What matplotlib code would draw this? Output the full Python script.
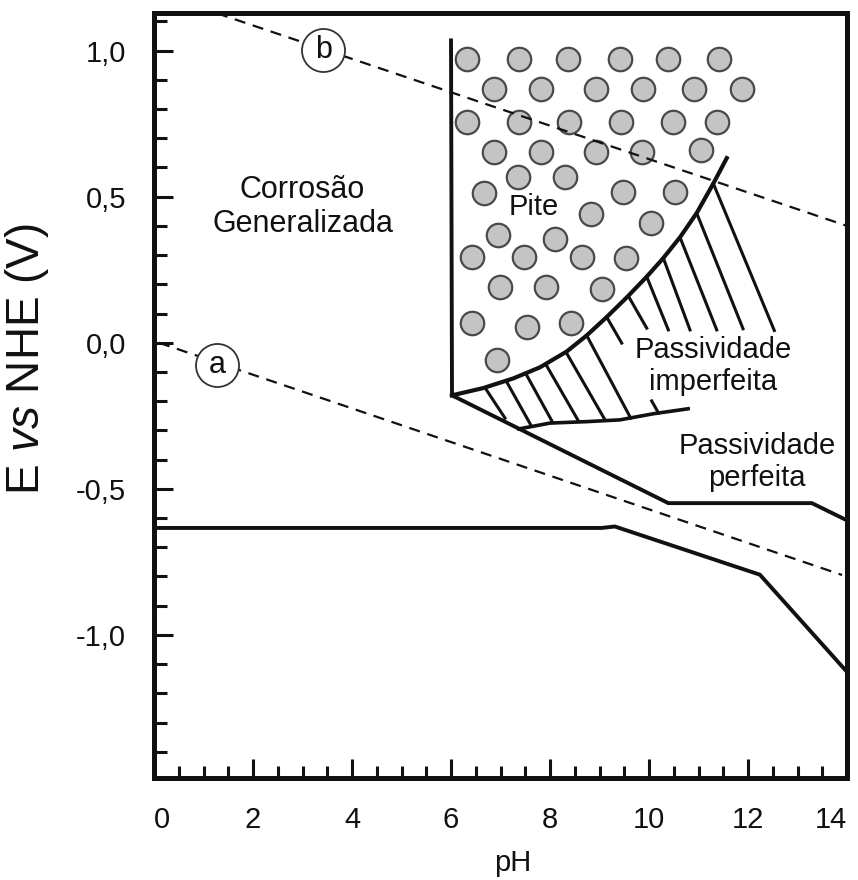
import numpy as np
import matplotlib
matplotlib.use("Agg")
import matplotlib.pyplot as plt
from matplotlib.ticker import MultipleLocator, FuncFormatter

plt.rcParams["font.family"] = ["Liberation Sans", "DejaVu Sans"]
plt.rcParams["mathtext.fontset"] = "custom"
plt.rcParams["mathtext.it"] = "Liberation Sans:italic"
plt.rcParams["mathtext.rm"] = "Liberation Sans"

x_ticks = [0, 2, 4, 6, 8, 10, 12, 14]

# dashed water stability lines
line_a_ph = [0.1, 13.9]
line_a_e = [0.0, -0.795]
line_b_ph = [1.27, 14.0]
line_b_e = [1.128, 0.40]

# solid boundaries
bottom_ph = [0.0, 9.04, 9.31, 12.24, 13.99]
bottom_e = [-0.634, -0.634, -0.629, -0.794, -1.125]

perfect_ph = [6.02, 10.39, 13.29, 14.0]
perfect_e = [-0.18, -0.549, -0.549, -0.608]

pit_wall_ph = [6.0, 6.02]
pit_wall_e = [1.035, -0.18]

pit_curve_ph = [6.02, 6.653, 7.259, 7.798, 8.337, 8.741, 9.145, 9.549, 9.953,
                10.289, 10.626, 10.963, 11.299, 11.57]
pit_curve_e = [-0.18, -0.155, -0.122, -0.084, -0.030, 0.025, 0.088, 0.155, 0.226,
               0.290, 0.361, 0.444, 0.545, 0.632]

lower_curve_ph = [7.37, 8.0, 8.74, 9.41, 10.09, 10.79]
lower_curve_e = [-0.295, -0.275, -0.270, -0.264, -0.243, -0.226]

# hatch strokes in the imperfect passivity zone
hatch_ph0 = [6.687, 7.125, 7.515, 7.919, 8.323, 8.741, 9.145, 9.582, 9.954, 10.289, 10.626, 10.963, 11.299, 10.054]
hatch_e0 = [-0.154, -0.134, -0.107, -0.075, -0.032, 0.025, 0.088, 0.160, 0.226, 0.290, 0.361, 0.444, 0.545, -0.199]
hatch_ph1 = [7.091, 7.610, 8.055, 8.572, 9.111, 9.630, 9.448, 9.954, 10.39, 10.828, 11.368, 11.899, 12.531, 10.19]
hatch_e1 = [-0.258, -0.281, -0.273, -0.267, -0.264, -0.258, -0.001, 0.050, 0.044, 0.044, 0.044, 0.048, 0.042, -0.240]

# pits
pit_ph = [6.317, 7.38, 8.37, 9.414, 10.378, 11.42,
          6.875, 7.818, 8.923, 9.873, 10.915, 11.873,
          6.317, 7.38, 8.384, 9.428, 10.479, 11.368,
          6.875, 7.818, 8.923, 9.865, 11.044,
          7.36, 8.303,
          6.673, 9.475, 10.525, 8.828, 10.04, 6.956, 8.101,
          6.43, 7.48, 8.64, 9.535, 6.99, 7.92, 9.044,
          6.418, 7.54, 8.424, 6.923]
pit_e = [0.971, 0.971, 0.971, 0.971, 0.971, 0.971,
         0.868, 0.868, 0.868, 0.868, 0.868, 0.868,
         0.757, 0.757, 0.757, 0.757, 0.757, 0.757,
         0.654, 0.654, 0.654, 0.654, 0.660,
         0.569, 0.569,
         0.512, 0.515, 0.515, 0.441, 0.409, 0.369, 0.355,
         0.295, 0.295, 0.295, 0.290, 0.192, 0.192, 0.183,
         0.067, 0.055, 0.067, -0.059]

ink = "#111111"

fig = plt.figure(figsize=(8.58, 8.80), dpi=100)
ax = fig.add_axes([0.1795, 0.1159, 0.8077, 0.8697])

ax.scatter(pit_ph, pit_e, s=285, facecolor="#c4c4c4", edgecolor="#4a4a4a", linewidth=1.6, zorder=2)

ax.plot(line_a_ph, line_a_e, color=ink, lw=1.6, ls=(0, (5, 3.5)), zorder=3)
ax.plot(line_b_ph, line_b_e, color=ink, lw=1.6, ls=(0, (5, 3.5)), zorder=3)

ax.plot(bottom_ph, bottom_e, color=ink, lw=2.8, zorder=3, solid_joinstyle="miter")
ax.plot(perfect_ph, perfect_e, color=ink, lw=2.8, zorder=3, solid_joinstyle="miter")
ax.plot(pit_wall_ph, pit_wall_e, color=ink, lw=2.8, zorder=3)
ax.plot(pit_curve_ph, pit_curve_e, color=ink, lw=3.0, zorder=3)
ax.plot(lower_curve_ph, lower_curve_e, color=ink, lw=2.6, zorder=3)
for x0, y0, x1, y1 in zip(hatch_ph0, hatch_e0, hatch_ph1, hatch_e1):
    ax.plot([x0, x1], [y0, y1], color=ink, lw=2.2, zorder=3)

# circled labels
ax.scatter([1.28, 3.42], [-0.076, 1.002], s=960, facecolor="white", edgecolor="#333333", linewidth=1.3, zorder=4)
ax.text(1.28, -0.076, "a", fontsize=22, ha="center", va="center", color=ink, zorder=5)
ax.text(3.42, 1.002, "b", fontsize=22, ha="center", va="center", color=ink, zorder=5)

ax.text(3.0, 0.465, "Corrosão\nGeneralizada", fontsize=22, ha="center", va="center", color=ink)
ax.text(7.68, 0.464, "Pite", fontsize=21, ha="center", va="center", color=ink)
ax.text(11.29, -0.079, "Passividade\nimperfeita", fontsize=21, ha="center", va="center", color=ink)
ax.text(12.18, -0.408, "Passividade\nperfeita", fontsize=21, ha="center", va="center", color=ink)

ax.set_xlim(0, 14)
ax.set_ylim(-1.49, 1.13)

ax.set_xticks(x_ticks, [str(v) for v in x_ticks])
ax.xaxis.set_minor_locator(MultipleLocator(0.5))
ax.yaxis.set_major_locator(MultipleLocator(0.5))
ax.yaxis.set_minor_locator(MultipleLocator(0.1))
ax.yaxis.set_major_formatter(FuncFormatter(lambda v, p: f"{round(v, 1) + 0.0:.1f}".replace(".", ",")))

ax.tick_params(which="both", direction="in", width=2.2, color=ink, top=False, right=False,
               labelsize=21, labelcolor=ink, pad=20)
ax.tick_params(which="major", length=14)
ax.tick_params(which="minor", length=9)

# first and last pH labels sit inside the frame edges
xlabels = ax.get_xticklabels()
xlabels[0].set_horizontalalignment("left")
xlabels[-1].set_horizontalalignment("right")

for sp in ax.spines.values():
    sp.set_linewidth(3.6)
    sp.set_color(ink)

ax.set_xlabel("pH", fontsize=21, color=ink)
ax.xaxis.set_label_coords(0.518, -0.093)
ax.set_ylabel(r"E $\it{vs}$ NHE (V)", fontsize=33, color=ink)
ax.yaxis.set_label_coords(-0.1486, 0.5475)

fig.savefig("out.png", dpi=100)
